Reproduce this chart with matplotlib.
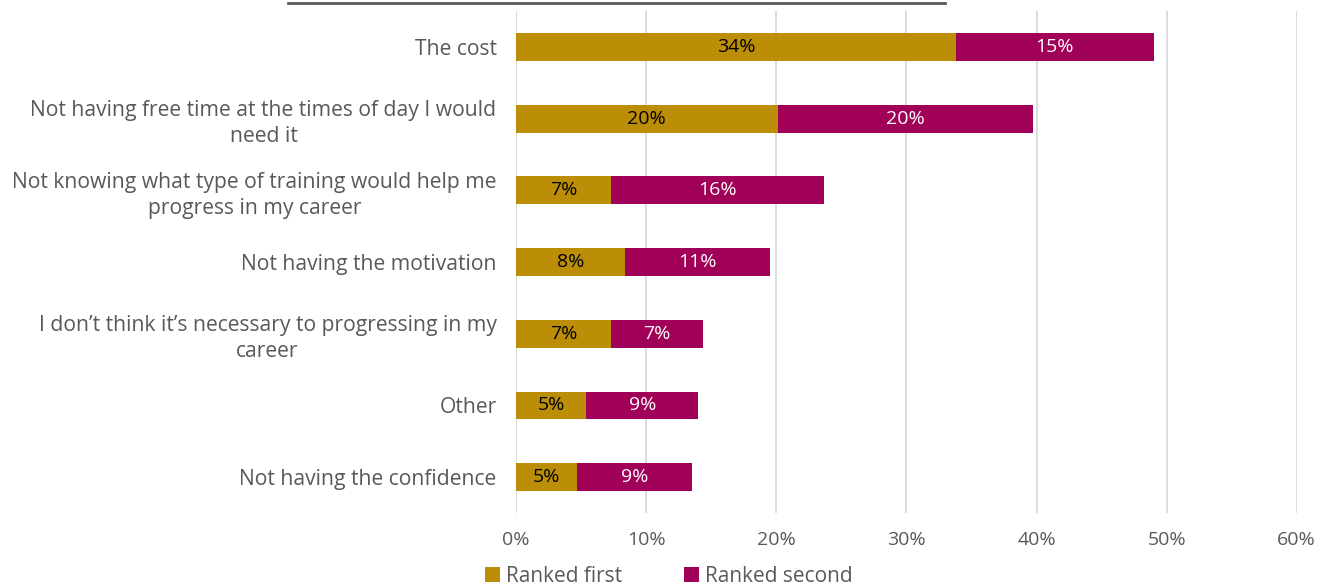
import matplotlib
matplotlib.use("Agg")
from matplotlib import pyplot as plt
import numpy as np

categories = [
    "The cost",
    "Not having free time at the times of day I would\nneed it",
    "Not knowing what type of training would help me\nprogress in my career",
    "Not having the motivation",
    "I don\u2019t think it\u2019s necessary to progressing in my\ncareer",
    "Other",
    "Not having the confidence",
]
ranked_first = [33.8, 20.1, 7.3, 8.4, 7.3, 5.4, 4.7]
ranked_second = [15.2, 19.6, 16.4, 11.1, 7.1, 8.6, 8.8]

gold = "#BC8E07"
plum = "#A00057"
grey = "#595959"

plt.rcParams["font.family"] = ["Open Sans", "DejaVu Sans"]

fig = plt.figure(figsize=(13.3, 5.85), dpi=100)
ax = fig.add_axes([0.388, 0.123, 0.587, 0.858])

y = np.arange(len(categories))
h = 0.39
ax.barh(y, ranked_first, height=h, color=gold, label="Ranked first", zorder=3)
ax.barh(y, ranked_second, left=ranked_first, height=h, color=plum,
        label="Ranked second", zorder=3)

for i in range(len(categories)):
    a, b = ranked_first[i], ranked_second[i]
    ax.text(a / 2, i, f"{round(a):.0f}%", ha="center", va="center",
            fontsize=14, color="black", zorder=4)
    ax.text(a + b / 2, i, f"{round(b):.0f}%", ha="center", va="center",
            fontsize=14, color="white", zorder=4)

ax.set_ylim(len(categories) - 0.5, -0.5)
ax.set_xlim(0, 60)
ax.set_xticks(np.arange(0, 61, 10))
ax.set_xticklabels([f"{t}%" for t in range(0, 61, 10)])
ax.set_yticks(y)
ax.set_yticklabels(categories, multialignment="center", linespacing=1.3)
ax.tick_params(axis="both", length=0, labelsize=14, labelcolor=grey)
ax.tick_params(axis="y", pad=14, labelsize=15.2)
ax.tick_params(axis="x", pad=13)
ax.grid(axis="x", color="#D9D9D9", linewidth=1.3, zorder=0)
for s in ax.spines.values():
    s.set_visible(False)

# cut-off underlined title at the very top
fig.add_artist(plt.Line2D([288 / 1330, 945 / 1330], [1 - 3 / 585, 1 - 3 / 585],
                          color="#595959", linewidth=2))

fig.legend(loc="lower center", bbox_to_anchor=(0.503, -0.035), ncol=2,
           frameon=False, fontsize=15, labelcolor=grey, handlelength=0.7,
           handleheight=0.7, handletextpad=0.3, columnspacing=3.0)

fig.savefig("out.png", dpi=100)
